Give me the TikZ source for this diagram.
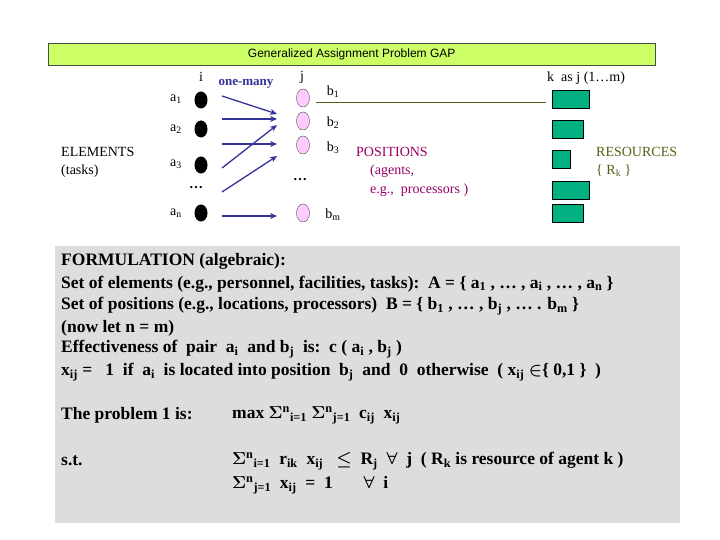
\documentclass[tikz,border=0pt]{standalone}
\usepackage{fontspec}
\setmainfont{Liberation Serif}
\setsansfont{Liberation Sans}
\usetikzlibrary{arrows.meta,shapes.geometric}
\definecolor{titlebg}{RGB}{204,255,102}
\definecolor{pinkn}{RGB}{255,204,255}
\definecolor{resg}{RGB}{0,176,128}
\definecolor{arrowc}{RGB}{51,51,153}
\definecolor{posc}{RGB}{153,0,102}
\definecolor{resc}{RGB}{80,100,20}
\definecolor{grayb}{RGB}{221,221,221}
\begin{document}
\begin{tikzpicture}[x=1pt,y=-1pt,
  lab/.style={font=\fontsize{14}{15}\selectfont, inner sep=0pt},
  anode/.style={ellipse, fill=black, minimum width=13pt, minimum height=17pt, inner sep=0pt},
  bnode/.style={ellipse, draw=black!70, fill=pinkn, minimum width=13pt, minimum height=18pt, inner sep=0pt},
  res/.style={draw=black, fill=resg, inner sep=0pt, anchor=north west},
  arr/.style={arrowc, line width=1.3pt, -{Stealth[length=7pt,width=6pt]}},
  bt/.style={font=\bfseries\boldmath\fontsize{17.5}{19}\selectfont, anchor=west, inner sep=0pt}]
\useasboundingbox (0,0) rectangle (720,540);
\fill[white] (0,0) rectangle (720,540);
\node[draw=black!70, fill=titlebg, minimum width=607pt, minimum height=22pt, anchor=north west, font=\sffamily\fontsize{12}{13}\selectfont] (title) at (48,43) {Generalized Assignment Problem GAP};
\node[lab] (i) at (201,77) {i};
\node[lab] (j) at (302,77) {j};
\node[lab, text=arrowc, font=\bfseries\fontsize{13}{14}\selectfont] (om) at (246,84) {one-many};
\node[anode] (a1) at (201,100) {};
\node[anode] (a2) at (201,129) {};
\node[anode] (a3) at (201,165) {};
\node[anode] (an) at (201,213) {};
\node[lab] (la1) at (176,99) {a\textsubscript{1}};
\node[lab] (la2) at (176,129) {a\textsubscript{2}};
\node[lab] (la3) at (176,164) {a\textsubscript{3}};
\node[lab] (lan) at (176,213) {a\textsubscript{n}};
\node[lab] (adots) at (196,188) {\textbf{\ldots}};
\node[bnode] (b1) at (303,98) {};
\node[bnode] (b2) at (303,121) {};
\node[bnode] (b3) at (303,145) {};
\node[bnode] (bm) at (303,213) {};
\node[lab] (lb1) at (333,92) {b\textsubscript{1}};
\node[lab] (lb2) at (333,123) {b\textsubscript{2}};
\node[lab] (lb3) at (333,148) {b\textsubscript{3}};
\node[lab] (lbm) at (333,215) {b\textsubscript{m}};
\node[lab] (bdots) at (300,180) {\textbf{\ldots}};
\coordinate (s1) at (222,96); \coordinate (t1) at (277,114);
\coordinate (s2) at (222,119); \coordinate (t2) at (277,119);
\coordinate (s3) at (222,144); \coordinate (t3) at (277,144);
\coordinate (s4) at (222,168); \coordinate (t4) at (277,125);
\coordinate (s5) at (222,192); \coordinate (t5) at (277,156);
\coordinate (s6) at (222,216); \coordinate (t6) at (277,216);
\foreach \k in {1,...,6} \draw[arr] (s\k) -- (t\k);
\coordinate (l1) at (316,102);
\node[res, minimum width=37pt, minimum height=18pt] (r1) at (552,90) {};
\draw[resc, line width=0.8pt] (l1) -- (546,102);
\node[res, minimum width=31pt, minimum height=18pt] (r2) at (552,120) {};
\node[res, minimum width=18pt, minimum height=18pt] (r3) at (552,150) {};
\node[res, minimum width=37pt, minimum height=18pt] (r4) at (552,181) {};
\node[res, minimum width=31pt, minimum height=18pt] (r5) at (552,204) {};
\node[lab, anchor=west] (kas) at (547,78) {k\ \ as\ j\ (1\ldots m)};
\node[lab, anchor=west] (el) at (61,152) {ELEMENTS};
\node[lab, anchor=west] (ta) at (61,171) {(tasks)};
\node[lab, anchor=west, text=posc] (pos) at (356,152) {POSITIONS};
\node[lab, anchor=west, text=posc] (ag) at (370,171) {(agents,};
\node[lab, anchor=west, text=posc] (eg) at (370,190) {e.g.,\ \ processors )};
\node[lab, anchor=west, text=resc] (rs) at (596,152) {RESOURCES};
\node[lab, anchor=west, text=resc] (rk) at (596,171) {\{ R\textsubscript{k} \}};
\fill[grayb] (55,246) rectangle (680,523);
\node[bt] (f1) at (61,261) {FORMULATION (algebraic):};
\node[bt] (f2) at (61,284) {Set of elements (e.g., personnel, facilities, tasks):\ \ A = \{ a\textsubscript{1} , \ldots\ , a\textsubscript{i} , \ldots\ , a\textsubscript{n} \}};
\node[bt] (f3) at (61,306) {Set of positions (e.g., locations, processors)\ \ B = \{ b\textsubscript{1} , \ldots\ , b\textsubscript{j} , \ldots\ . b\textsubscript{m} \}};
\node[bt] (f4) at (61,328) {(now let n = m)};
\node[bt] (f5) at (61,349) {Effectiveness\ of\ \ pair\ \ a\textsubscript{i}\ \ and b\textsubscript{j}\ \ is:\ \ c ( a\textsubscript{i} , b\textsubscript{j} )};
\node[bt] (f6) at (61,372) {x\textsubscript{ij} =\ \ \ 1\ \ if\ \ a\textsubscript{i}\ \ is located into position\ \ b\textsubscript{j}\ \ and\ \ 0\ \ otherwise\ \ ( x\textsubscript{ij} $\in$\{ 0,1 \}\ \ )};
\node[bt] (p1) at (61,415) {The problem 1 is:};
\node[bt] (p2) at (232,415) {max $\Sigma$\textsuperscript{n}\textsubscript{i=1} $\Sigma$\textsuperscript{n}\textsubscript{j=1}\ \ c\textsubscript{ij}\ \ x\textsubscript{ij}};
\node[bt] (st) at (61,461) {s.t.};
\node[bt] (c1) at (232,461) {$\Sigma$\textsuperscript{n}\textsubscript{i=1}\ \ r\textsubscript{ik}\ \ x\textsubscript{ij}\ \ \ $\leq$\ \ R\textsubscript{j}\ \ $\forall$\ \ j\ \ ( R\textsubscript{k} is resource of agent k )};
\node[bt] (c2) at (232,485) {$\Sigma$\textsuperscript{n}\textsubscript{j=1}\ \ x\textsubscript{ij}\ \ =\ \ 1\ \ \ \ \ \ \ $\forall$\ \ i};
\end{tikzpicture}
\end{document}
